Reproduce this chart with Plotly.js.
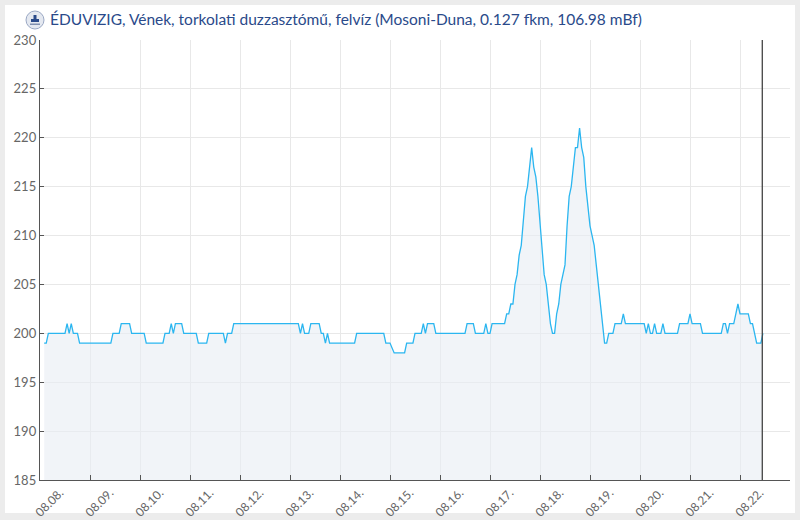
<!DOCTYPE html>
<html>
<head>
<meta charset="utf-8">
<script src="https://cdn.plot.ly/plotly-3.0.1.min.js"></script>
<style>
  html, body { margin: 0; padding: 0; background: #ececec; }
  #card { position: absolute; left: 5px; top: 5px; width: 790px; height: 508px; background: #ffffff; }
  #chart { position: absolute; left: 0; top: 0; width: 800px; height: 520px; }
</style>
</head>
<body>
<div id="card"></div>
<div id="chart"></div>
<script>
// ---- data ----
const chartTitle = 'ÉDUVIZIG, Vének, torkolati duzzasztómű, felvíz (Mosoni-Duna, 0.127 fkm, 106.98 mBf)';
const startDay = [2024, 7, 8];           // 2024-08-08 00:00
const endDay = [2024, 7, 23];            // 2024-08-23 00:00
const nowHour = 346.7;                   // current time marker, hours after start
// vertices of the water level series: hours after start, level (cm)
const hours = [
  2, 3, 4, 12, 13, 14, 15, 16, 18, 19, 34, 35, 38, 39, 43, 44, 50, 51, 59, 60,
  62, 63, 64, 65, 68, 69, 75, 76, 80, 81, 88, 89, 90, 92, 93,
  124, 125, 126, 127, 129, 130, 134, 135, 136, 137, 138, 139, 151, 152, 165, 166, 168, 170, 175, 176, 179, 180,
  183, 184, 185, 186, 189, 190, 204, 205, 208, 209, 213, 214, 215, 216, 217, 223,
  224, 225, 226, 227, 228, 229, 230, 231, 232, 233, 234, 235, 236, 237, 238, 239, 240, 241, 242, 243, 244, 245,
  246, 247, 248, 249, 250, 251, 252, 253, 254, 255, 256, 257, 258, 259, 260, 261, 262, 263, 264, 265, 266, 267,
  268, 269, 270, 271, 272, 273,
  275, 276, 279, 280, 281, 290, 291, 292, 293, 294, 295, 296, 298, 299, 300, 306, 307, 311, 312, 313, 317, 318,
  327, 328, 329, 330, 331, 333, 334, 335, 336, 340, 341, 342, 344, 346, 347
];
const levels = [
  199, 199, 200, 200, 201, 200, 201, 200, 200, 199, 199, 200, 200, 201, 201, 200, 200, 199, 199, 200,
  200, 201, 200, 201, 201, 200, 200, 199, 199, 200, 200, 199, 200, 200, 201,
  201, 200, 201, 200, 200, 201, 201, 200, 200, 199, 200, 199, 199, 200, 200, 199, 199, 198, 198, 199, 199, 200,
  200, 201, 200, 201, 201, 200, 200, 201, 201, 200, 200, 201, 200, 200, 201, 201,
  202, 202, 203, 203, 205, 206, 208, 209, 212, 214, 215, 217, 219, 217, 216, 214, 211, 208, 206, 205, 203, 201,
  200, 200, 202, 203, 205, 206, 207, 211, 214, 215, 217, 219, 219, 221, 219, 218, 215, 213, 211, 210, 209, 207,
  205, 203, 201, 199, 199, 200,
  200, 201, 201, 202, 201, 201, 200, 201, 200, 200, 201, 200, 200, 201, 200, 200, 201, 201, 202, 201, 201, 200,
  200, 201, 201, 200, 201, 201, 202, 203, 202, 202, 201, 201, 199, 199, 200
];
const yRange = [185, 230];

// ---- build ----
const t0 = Date.UTC(startDay[0], startDay[1], startDay[2]);
const t1 = Date.UTC(endDay[0], endDay[1], endDay[2]);
const HOUR = 3600000;
const xs = hours.map(h => t0 + h * HOUR);
const nowT = t0 + nowHour * HOUR;

const trace = {
  type: 'scatter',
  mode: 'lines',
  x: xs,
  y: levels,
  line: { color: '#2bb6f0', width: 1.3, shape: 'linear' },
  fill: 'tozeroy',
  fillcolor: 'rgba(232,236,244,0.6)',
  hoverinfo: 'x+y'
};

const axisFont = { family: 'Lato, "Open Sans", sans-serif', size: 12, color: '#666666' };

const layout = {
  width: 800,
  height: 520,
  margin: { l: 40, r: 10, t: 40, b: 40 },
  paper_bgcolor: 'rgba(0,0,0,0)',
  plot_bgcolor: 'rgba(0,0,0,0)',
  showlegend: false,
  font: { family: 'Lato, "Open Sans", sans-serif' },
  title: {
    text: chartTitle,
    x: 50 / 800, xanchor: 'left', xref: 'container',
    y: 1 - 20 / 520, yanchor: 'middle', yref: 'container',
    font: { family: 'Lato, "Open Sans", sans-serif', size: 15.5, color: '#2a4a8a' }
  },
  xaxis: {
    type: 'date',
    range: [t0, t1],
    tick0: t0,
    dtick: 86400000,
    tickformat: '%m.%d.',
    tickangle: -45,
    ticklabelshift: 20,
    ticks: 'inside',
    ticklen: 5,
    tickcolor: '#555555',
    tickfont: axisFont,
    showgrid: true,
    gridcolor: '#e8e8e8',
    gridwidth: 1,
    showline: true,
    linecolor: '#555555',
    linewidth: 1.2,
    zeroline: false,
    fixedrange: true
  },
  yaxis: {
    range: yRange,
    dtick: 5,
    tick0: 185,
    ticks: 'inside',
    ticklen: 4,
    tickcolor: '#555555',
    tickfont: { family: 'Lato, "Open Sans", sans-serif', size: 13, color: '#666666' },
    showgrid: true,
    gridcolor: '#e8e8e8',
    gridwidth: 1,
    showline: true,
    linecolor: '#555555',
    linewidth: 1.2,
    zeroline: false,
    fixedrange: true
  },
  shapes: [
    { type: 'line', xref: 'x', yref: 'paper', x0: nowT, x1: nowT, y0: 0, y1: 1,
      line: { color: '#444444', width: 1.3 } },
    // logo
    { type: 'circle', xref: 'paper', yref: 'paper', layer: 'above',
      x0: (26 - 40) / 750, x1: (44 - 40) / 750, y0: (480 - 29) / 440, y1: (480 - 11) / 440,
      fillcolor: '#e4e8f0', line: { color: '#9aa8c4', width: 1 } },
    { type: 'rect', xref: 'paper', yref: 'paper', layer: 'above',
      x0: (31 - 40) / 750, x1: (39 - 40) / 750, y0: (480 - 22) / 440, y1: (480 - 19) / 440,
      fillcolor: '#2a4a8a', line: { width: 0 } },
    { type: 'rect', xref: 'paper', yref: 'paper', layer: 'above',
      x0: (33.5 - 40) / 750, x1: (36.5 - 40) / 750, y0: (480 - 19) / 440, y1: (480 - 15) / 440,
      fillcolor: '#2a4a8a', line: { width: 0 } },
    { type: 'rect', xref: 'paper', yref: 'paper', layer: 'above',
      x0: (30 - 40) / 750, x1: (40 - 40) / 750, y0: (480 - 25) / 440, y1: (480 - 23.5) / 440,
      fillcolor: '#8090b0', line: { width: 0 } }
  ]
};

Plotly.newPlot('chart', [trace], layout, { displayModeBar: false, staticPlot: true });
</script>
</body>
</html>
